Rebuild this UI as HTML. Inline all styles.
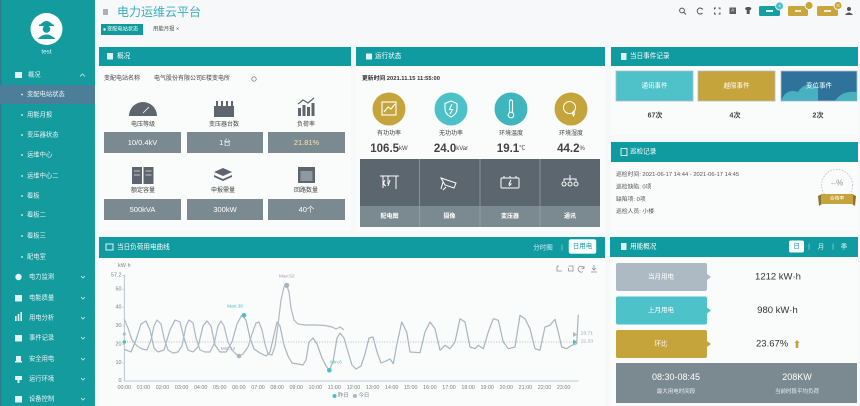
<!DOCTYPE html>
<html><head><meta charset="utf-8">
<style>
*{margin:0;padding:0;box-sizing:border-box}
html,body{width:860px;height:406px;overflow:hidden;background:#f6f8f9}
svg{display:block}
text{font-family:"Liberation Sans","Noto Sans CJK SC",sans-serif;dominant-baseline:central}
.sm{font-size:6.3px;fill:#eaf6f6}
.m{text-anchor:middle}
.e{text-anchor:end}
.ht{font-size:6.6px;fill:#fff}
.lb{font-size:6px;fill:#444}
.bx{font-size:7.5px;fill:#fff}
.ax{font-size:5.4px;fill:#7a8288}
</style></head>
<body>
<svg width="860" height="406" viewBox="0 0 860 406" xmlns="http://www.w3.org/2000/svg">
<rect width="860" height="406" fill="#f6f8f9"/>

<!-- ============ SIDEBAR ============ -->
<rect x="0" y="0" width="95" height="406" fill="#139b9e"/>
<rect x="0" y="0" width="1.5" height="406" fill="#2f7d8c"/>
<circle cx="46.5" cy="29" r="16" fill="#fff"/>
<g fill="#139b9e">
  <path d="M40 25 Q46.5 17 53 25 Z"/>
  <rect x="39" y="24.5" width="15" height="1.6"/>
  <circle cx="46.5" cy="29" r="3.8"/>
  <path d="M37.5 39 Q46.5 30 55.5 39 Z"/>
</g>
<text x="46.5" y="52" class="sm m">test</text>

<rect x="15" y="72" width="7" height="6" fill="#e6f2f2"/>
<text x="28" y="75" class="sm">概况</text>
<path d="M80 76.5 l2.5 -2.5 l2.5 2.5" stroke="#d6ecec" stroke-width="0.8" fill="none"/>

<rect x="0" y="85" width="95" height="19" fill="#4c7d99"/>
<g fill="#eaf6f6">
  <circle cx="22" cy="94.5" r="0.9"/><circle cx="22" cy="115" r="0.9"/><circle cx="22" cy="135" r="0.9"/>
  <circle cx="22" cy="155" r="0.9"/><circle cx="22" cy="176" r="0.9"/><circle cx="22" cy="196" r="0.9"/>
  <circle cx="22" cy="215" r="0.9"/><circle cx="22" cy="236" r="0.9"/><circle cx="22" cy="257" r="0.9"/>
</g>
<text x="27" y="94.5" class="sm">变配电站状态</text>
<text x="27" y="115" class="sm">用能月报</text>
<text x="27" y="135" class="sm">变压器状态</text>
<text x="27" y="155" class="sm">运维中心</text>
<text x="27" y="176" class="sm">运维中心二</text>
<text x="27" y="196" class="sm">看板</text>
<text x="27" y="215" class="sm">看板二</text>
<text x="27" y="236" class="sm">看板三</text>
<text x="27" y="257" class="sm">配电室</text>

<g fill="#e6f2f2">
  <circle cx="18.5" cy="277" r="3.2"/>
  <rect x="15" y="295" width="7" height="6.5"/>
  <rect x="15" y="316" width="1.6" height="5"/><rect x="17.7" y="314" width="1.6" height="7"/><rect x="20.4" y="312" width="1.6" height="9"/>
  <rect x="15" y="335" width="7" height="6.5"/>
  <rect x="16" y="356" width="5" height="5"/><rect x="15" y="361" width="7" height="1.5"/>
  <rect x="15" y="376" width="7" height="4"/><rect x="17.5" y="380" width="2" height="3"/>
  <rect x="15" y="396" width="7" height="6.5"/>
</g>
<text x="29" y="277" class="sm">电力监测</text>
<text x="29" y="298" class="sm">电能质量</text>
<text x="29" y="318" class="sm">用电分析</text>
<text x="29" y="338" class="sm">事件记录</text>
<text x="29" y="359" class="sm">安全用电</text>
<text x="29" y="379" class="sm">运行环境</text>
<text x="29" y="399" class="sm">设备控制</text>
<g stroke="#cfe9e9" stroke-width="0.8" fill="none">
  <path d="M81 276 l2 2 l2 -2"/><path d="M81 297 l2 2 l2 -2"/><path d="M81 317 l2 2 l2 -2"/>
  <path d="M81 337 l2 2 l2 -2"/><path d="M81 358 l2 2 l2 -2"/><path d="M81 378 l2 2 l2 -2"/><path d="M81 398 l2 2 l2 -2"/>
</g>

<!-- ============ HEADER ============ -->
<g stroke="#555" stroke-width="0.9">
  <line x1="103" y1="10" x2="108" y2="10"/><line x1="103" y1="12" x2="108" y2="12"/><line x1="103" y1="14" x2="108" y2="14"/>
</g>
<text x="117" y="12" style="font-size:12px;fill:#3aaebf">电力运维云平台</text>
<rect x="101" y="24" width="42" height="11" fill="#109a9c"/>
<circle cx="104.5" cy="29.5" r="1.2" fill="#fff"/>
<text x="107" y="29.7" style="font-size:5.2px;fill:#fff">变配电站状态</text>
<text x="153" y="29.7" style="font-size:5.4px;fill:#555">用能月报 ×</text>

<!-- header right icons -->
<g stroke="#555" stroke-width="1" fill="none">
  <circle cx="682" cy="10.5" r="2.4"/><line x1="683.8" y1="12.3" x2="686" y2="14.5"/>
  <path d="M702.8 9.5 A3 3 0 1 0 702.5 13"/>
  <path d="M714.5 9.5 v-1.5 h1.5 M718.5 8 h1.5 v1.5 M720 12.5 v1.5 h-1.5 M716 14 h-1.5 v-1.5"/>
</g>
<rect x="729.5" y="7.5" width="6.5" height="6.5" fill="#5a6066"/>
<text x="732.7" y="10.9" class="m" style="font-size:4.8px;fill:#fff">A</text>
<path d="M745 8 l2 -1 h2.5 l2 1 l-0.8 2 h-1 v4 h-3 v-4 h-1 z" fill="#555"/>
<rect x="759" y="6" width="21" height="10" rx="1.5" fill="#14a0a3"/>
<rect x="766" y="10" width="7" height="2" fill="#e6f5f5"/>
<circle cx="779.5" cy="6" r="4" fill="#4cc0c6" stroke="#fff" stroke-width="0.8"/>
<text x="779.5" y="6.2" class="m" style="font-size:3.8px;fill:#fff">4</text>
<rect x="788" y="6" width="20" height="10" rx="1.5" fill="#c9a63c"/>
<circle cx="809" cy="5.5" r="4" fill="#c9a63c" stroke="#fff" stroke-width="0.8"/>
<rect x="795" y="10" width="6" height="2" fill="#f5ecd0"/>
<rect x="817" y="6" width="21" height="10" rx="1.5" fill="#c9a63c"/>
<circle cx="838" cy="5.5" r="4" fill="#c9a63c" stroke="#fff" stroke-width="0.8"/>
<text x="838" y="5.7" class="m" style="font-size:3.8px;fill:#fff">11</text>
<rect x="824" y="10" width="7" height="2" fill="#f5ecd0"/>
<circle cx="849" cy="9" r="2" fill="#555"/><path d="M845 15 Q849 10 853 15 Z" fill="#555"/>

<!-- ============ PANEL 1 概况 ============ -->
<rect x="99" y="47" width="252" height="184" fill="#fafbfb"/>
<rect x="99" y="47" width="252" height="19" fill="#0f9ba0"/>
<rect x="107" y="53" width="6" height="6.5" fill="#dff2f2"/>
<text x="117" y="56.5" class="ht">概况</text>
<text x="104" y="79" class="lb">变配电站名称</text>
<text x="154" y="79" class="lb">电气股份有限公司E楼变电所</text>
<circle cx="254" cy="79" r="2.2" fill="none" stroke="#666" stroke-width="0.7"/>

<!-- icons row1 -->
<path d="M129 116 A14 14 0 0 1 157 116 Z" fill="#5d666e"/>
<path d="M143 113 L149 107" stroke="#fff" stroke-width="0.8"/>
<g fill="#5d666e">
  <rect x="214" y="106" width="20" height="11"/>
  <rect x="216" y="101" width="2" height="5"/><rect x="221" y="101" width="2" height="5"/>
  <rect x="226" y="101" width="2" height="5"/><rect x="231" y="101" width="2" height="5"/>
  <rect x="298" y="108" width="3" height="8"/><rect x="302.5" y="105" width="3" height="11"/>
  <rect x="307" y="107" width="3" height="9"/><rect x="311.5" y="103" width="3" height="13"/>
</g>
<path d="M298 104 L303 100 L308 103 L314 98" stroke="#5d666e" stroke-width="1.2" fill="none"/>
<text x="143" y="125" class="lb m">电压等级</text>
<text x="224" y="125" class="lb m">变压器台数</text>
<text x="306" y="125" class="lb m">负荷率</text>
<rect x="104" y="132" width="77" height="21" fill="#7b8990"/>
<rect x="187" y="132" width="76" height="21" fill="#7b8990"/>
<rect x="268" y="132" width="77" height="21" fill="#7b8990"/>
<text x="142.5" y="142.5" class="bx m">10/0.4kV</text>
<text x="225" y="142.5" class="bx m">1台</text>
<text x="306.5" y="142.5" class="bx m" style="fill:#f0e6b0">21.81%</text>

<!-- icons row2 -->
<g fill="#5d666e">
  <rect x="132" y="167" width="10" height="17"/><rect x="143.5" y="167" width="10" height="17"/>
  <path d="M223 168 L232 172 L223 176 L214 172 Z"/>
  <path d="M214 175 L223 179 L232 175 L232 177 L223 181 L214 177 Z"/>
  <rect x="298" y="167" width="17" height="16"/>
</g>
<g stroke="#fff" stroke-width="0.6">
  <line x1="134" y1="171" x2="140" y2="171"/><line x1="145.5" y1="171" x2="151.5" y2="171"/>
  <line x1="134" y1="175" x2="140" y2="175"/><line x1="145.5" y1="175" x2="151.5" y2="175"/>
</g>
<rect x="300.5" y="171" width="12" height="10" fill="#8f9aa0"/>
<text x="143" y="191" class="lb m">额定容量</text>
<text x="223" y="191" class="lb m">申报需量</text>
<text x="306" y="191" class="lb m">回路数量</text>
<rect x="104" y="199" width="77" height="21" fill="#7b8990"/>
<rect x="187" y="199" width="76" height="21" fill="#7b8990"/>
<rect x="268" y="199" width="77" height="21" fill="#7b8990"/>
<text x="142.5" y="209.5" class="bx m">500kVA</text>
<text x="225" y="209.5" class="bx m">300kW</text>
<text x="306.5" y="209.5" class="bx m">40个</text>

<!-- ============ PANEL 2 运行状态 ============ -->
<rect x="356" y="47" width="249" height="184" fill="#fafbfb"/>
<rect x="356" y="47" width="249" height="19" fill="#0f9ba0"/>
<rect x="366" y="53.5" width="6" height="6" fill="#dff2f2"/>
<text x="375" y="56.5" class="ht">运行状态</text>
<text x="362" y="79" style="font-size:5.8px;fill:#333;font-weight:bold">更新时间 2021.11.15 11:55:00</text>
<circle cx="389" cy="109" r="16.5" fill="#c4a43b"/>
<circle cx="451" cy="109" r="16.5" fill="#4cc2c8"/>
<circle cx="511" cy="109" r="16.5" fill="#3fb5bd"/>
<circle cx="571" cy="109" r="16.5" fill="#c4a43b"/>
<g stroke="#fff" stroke-width="1.1" fill="none">
  <rect x="382" y="102" width="14" height="13"/>
  <path d="M384 112 L388 107 L391 109 L395 104"/>
  <path d="M451 101 L457 103.5 V109 Q457 114 451 117 Q445 114 445 109 V103.5 Z"/>
  <path d="M452 104 L449.5 109.5 H452.5 L450 114"/>
  <path d="M509.5 113 V101 A1.6 1.6 0 0 1 512.5 101 V113"/>
  <circle cx="511" cy="115" r="2.8"/>
  <circle cx="569.5" cy="107.5" r="6"/>
  <path d="M573.5 111 Q575 114 573.5 116 Q572 114 573.5 111"/>
</g>
<text x="389" y="134" class="lb m">有功功率</text>
<text x="451" y="134" class="lb m">无功功率</text>
<text x="511" y="134" class="lb m">环境温度</text>
<text x="571" y="134" class="lb m">环境湿度</text>
<text x="389" y="149" class="m" style="font-size:11.5px;font-weight:bold;fill:#444">106.5<tspan style="font-size:6px;font-weight:normal">kW</tspan></text>
<text x="451" y="149" class="m" style="font-size:11.5px;font-weight:bold;fill:#444">24.0<tspan style="font-size:6px;font-weight:normal">kVar</tspan></text>
<text x="511" y="149" class="m" style="font-size:11.5px;font-weight:bold;fill:#444">19.1<tspan style="font-size:6px;font-weight:normal">℃</tspan></text>
<text x="571" y="149" class="m" style="font-size:11.5px;font-weight:bold;fill:#444">44.2<tspan style="font-size:6px;font-weight:normal">%</tspan></text>
<rect x="360" y="159" width="240" height="47" fill="#5c666e"/>
<rect x="360" y="206" width="240" height="21" fill="#7b8a90"/>
<g stroke="#9aa5ab" stroke-width="0.7">
  <line x1="419.5" y1="159" x2="419.5" y2="227"/><line x1="480" y1="159" x2="480" y2="227"/><line x1="540" y1="159" x2="540" y2="227"/>
</g>
<g stroke="#fff" stroke-width="1" fill="none">
  <path d="M380 176 H399 M383 176 V188 M388 176 V184 M396 176 V189 M385 180 Q382 184 386 186 M390 180 L388 186"/>
  <path d="M441 178 L456 183 L454 188 L445 185 Z M443 182 L441 189 M446 187 L443 190"/>
  <rect x="501" y="178" width="18" height="10" rx="1"/>
  <path d="M504 178 V176 M510 178 V176 M516 178 V176 M511 180 L509 184 H511 L509 186"/>
  <path d="M570 175 V179 M564 181 V179 H576 V181 M570 179 V181"/>
  <circle cx="564" cy="184" r="2"/><circle cx="570" cy="184" r="2"/><circle cx="576" cy="184" r="2"/>
</g>
<text x="389.5" y="217" class="m" style="font-size:6px;fill:#fff;font-weight:bold">配电图</text>
<text x="449.5" y="217" class="m" style="font-size:6px;fill:#fff;font-weight:bold">摄像</text>
<text x="510" y="217" class="m" style="font-size:6px;fill:#fff;font-weight:bold">变压器</text>
<text x="570" y="217" class="m" style="font-size:6px;fill:#fff;font-weight:bold">通讯</text>

<!-- ============ PANEL 3 当日事件记录 ============ -->
<rect x="611" y="47" width="247" height="88" fill="#fafbfb"/>
<rect x="611" y="47" width="247" height="19" fill="#0f9ba0"/>
<rect x="621" y="53" width="5.5" height="7" fill="#dff2f2"/>
<text x="630" y="56.5" class="ht">当日事件记录</text>
<rect x="616" y="71" width="77" height="30" fill="#4fc1c8" stroke="#aebdc8" stroke-width="0.8"/>
<rect x="698" y="71" width="77" height="30" fill="#c5a43c" stroke="#aebdc8" stroke-width="0.8"/>
<rect x="781" y="71" width="76" height="30" fill="#2f739c" stroke="#aebdc8" stroke-width="0.8"/>
<path d="M781 101 Q786 88 798 92 Q806 80 818 88 V101 Z" fill="#4fc1c8" opacity="0.8"/>
<path d="M835 101 Q842 90 857 92 V101 Z" fill="#4fc1c8" opacity="0.8"/>
<text x="654.5" y="86" class="m" style="font-size:6.5px;fill:#fff">通讯事件</text>
<text x="736.5" y="86" class="m" style="font-size:6.5px;fill:#fff">越限事件</text>
<text x="819" y="86" class="m" style="font-size:6.5px;fill:#fff">变位事件</text>
<text x="655" y="116" class="m" style="font-size:7px;fill:#444;font-weight:bold">67次</text>
<text x="735" y="116" class="m" style="font-size:7px;fill:#444;font-weight:bold">4次</text>
<text x="818" y="116" class="m" style="font-size:7px;fill:#444;font-weight:bold">2次</text>

<!-- ============ PANEL 4 巡检记录 ============ -->
<rect x="611" y="142" width="247" height="89" fill="#fafbfb"/>
<rect x="611" y="142" width="247" height="20" fill="#0f9ba0"/>
<rect x="621" y="148.5" width="6" height="7" fill="none" stroke="#dff2f2" stroke-width="1"/>
<text x="630" y="152" class="ht">巡检记录</text>
<text x="616" y="175" style="font-size:5.8px;fill:#555">巡检时间: 2021-06-17 14:44 - 2021-06-17 14:45</text>
<text x="616" y="187.5" style="font-size:5.8px;fill:#555">巡检缺陷: 0项</text>
<text x="616" y="200" style="font-size:5.8px;fill:#555">缺陷项: 0项</text>
<text x="616" y="212" style="font-size:5.8px;fill:#555">巡检人员: 小楼</text>
<circle cx="837" cy="185" r="15.5" fill="none" stroke="#aab4bc" stroke-width="0.7" stroke-dasharray="1.5 1.5"/>
<text x="837" y="183" class="m" style="font-size:8px;fill:#8a949a"><tspan fill="#c5a43c">--</tspan>%</text>
<path d="M818 196 L822 194 L822 204 L819 206 Z" fill="#8a7430"/>
<path d="M856 196 L852 194 L852 204 L855 206 Z" fill="#8a7430"/>
<rect x="821" y="194" width="32" height="10" fill="#c5a43c"/>
<text x="837" y="199.2" class="m" style="font-size:4.8px;fill:#fff">合格率</text>

<!-- ============ PANEL 5 用能概况 ============ -->
<rect x="610" y="237" width="248" height="169" fill="#fafbfb"/>
<rect x="610" y="237" width="248" height="20" fill="#0f9ba0"/>
<rect x="621" y="243" width="5.5" height="7" fill="#dff2f2"/>
<text x="630" y="247" class="ht">用能概况</text>
<rect x="789" y="240.5" width="15" height="12" rx="2" fill="#fff"/>
<text x="796.5" y="246.7" class="m" style="font-size:6.5px;fill:#0f9ba0">日</text>
<text x="809" y="247" class="m" style="font-size:6px;fill:#cfeaea">|</text>
<text x="821" y="247" class="m" style="font-size:6.5px;fill:#e3f3f3">月</text>
<text x="833" y="247" class="m" style="font-size:6px;fill:#cfeaea">|</text>
<text x="844" y="247" class="m" style="font-size:6.5px;fill:#e3f3f3">季</text>

<path d="M618 263 H705 Q707 263 707 265 V274 L711 277 L707 280 V289 Q707 291 705 291 H618 Q616 291 616 289 V265 Q616 263 618 263 Z" fill="#adb9c3"/>
<path d="M618 296.5 H705 Q707 296.5 707 298.5 V307.5 L711 310.5 L707 313.5 V322.5 Q707 324.5 705 324.5 H618 Q616 324.5 616 322.5 V298.5 Q616 296.5 618 296.5 Z" fill="#4dc2c8"/>
<path d="M618 330 H705 Q707 330 707 332 V341 L711 344 L707 347 V356 Q707 358 705 358 H618 Q616 358 616 356 V332 Q616 330 618 330 Z" fill="#c4a43b"/>
<text x="661" y="277" class="m" style="font-size:6.5px;fill:#fff">当月用电</text>
<text x="661" y="310.5" class="m" style="font-size:6.5px;fill:#fff">上月用电</text>
<text x="661" y="344" class="m" style="font-size:6.5px;fill:#fff">环比</text>
<text x="778" y="277" class="m" style="font-size:9.5px;fill:#333">1212 kW·h</text>
<text x="777.5" y="310.5" class="m" style="font-size:9.5px;fill:#333">980 kW·h</text>
<text x="756" y="344" style="font-size:9.5px;fill:#333">23.67%</text>
<path d="M797 340 L799.5 343 H798.3 V348 H795.7 V343 H794.5 Z" fill="#c4a43b"/>
<rect x="616" y="363" width="241" height="40" fill="#7b8a90"/>
<text x="676" y="377" class="m" style="font-size:9px;fill:#fff">08:30-08:45</text>
<text x="676" y="392" class="m" style="font-size:5.5px;fill:#e8eef0">最大用电时间段</text>
<text x="797" y="377" class="m" style="font-size:9px;fill:#fff">208KW</text>
<text x="797" y="392" class="m" style="font-size:5.5px;fill:#e8eef0">当前时段平均负荷</text>

<!-- ============ CHART PANEL ============ -->
<rect x="99" y="237" width="506" height="169" fill="#fafbfb"/>
<rect x="99" y="237" width="506" height="21" fill="#0f9ba0"/>
<rect x="106" y="244" width="7" height="6" fill="none" stroke="#dff2f2" stroke-width="1"/>
<text x="117" y="247.5" class="ht">当日负荷用电曲线</text>
<text x="543" y="248" class="m" style="font-size:6.5px;fill:#d8f0f0">分时图</text>
<text x="562" y="248" class="m" style="font-size:6px;fill:#cfeaea">|</text>
<rect x="569" y="239.5" width="27" height="14" rx="1.5" fill="#fff" stroke="#dfe" stroke-width="0.5"/>
<text x="582.5" y="246.7" class="m" style="font-size:6.5px;fill:#0f9ba0">日用电</text>

<!-- toolbox -->
<g stroke="#8c959b" stroke-width="0.8" fill="none">
  <path d="M557 266 V271 H562 M557 266 H559"/>
  <path d="M568.5 266 H573 V271 H568.5 V268"/>
  <path d="M584 268.5 A3 3 0 1 0 583 271.5 M584 266 V268.5 H581.5"/>
  <path d="M594 265 V270 M592 268 L594 270 L596 268 M591 272 H597"/>
</g>

<text x="118" y="266" style="font-size:5.4px;fill:#7a8288">kW·h</text>
<line x1="124.3" y1="275" x2="124.3" y2="381" stroke="#a9b7c3" stroke-width="0.8"/>
<line x1="124.3" y1="381" x2="578.5" y2="381" stroke="#a9b7c3" stroke-width="0.8"/>
<text x="121.5" y="275.3" class="ax e">57.2</text>
<text x="121.5" y="289.3" class="ax e">50</text>
<text x="121.5" y="307.5" class="ax e">40</text>
<text x="121.5" y="326" class="ax e">30</text>
<text x="121.5" y="344.5" class="ax e">20</text>
<text x="121.5" y="363" class="ax e">10</text>
<text x="121.5" y="381" class="ax e">0</text>
<g stroke="#a9b7c3" stroke-width="0.6">
  <line x1="122.5" y1="275.3" x2="124.3" y2="275.3"/><line x1="122.5" y1="289.3" x2="124.3" y2="289.3"/>
  <line x1="122.5" y1="307.5" x2="124.3" y2="307.5"/><line x1="122.5" y1="326" x2="124.3" y2="326"/>
  <line x1="122.5" y1="344.5" x2="124.3" y2="344.5"/><line x1="122.5" y1="363" x2="124.3" y2="363"/>
</g>
<g class="ax m" style="text-anchor:middle">
  <text x="124.3" y="388">00:00</text><text x="143.4" y="388">01:00</text><text x="162.5" y="388">02:00</text>
  <text x="181.6" y="388">03:00</text><text x="200.7" y="388">04:00</text><text x="219.8" y="388">05:00</text>
  <text x="238.9" y="388">06:00</text><text x="258" y="388">07:00</text><text x="277.1" y="388">08:00</text>
  <text x="296.2" y="388">09:00</text><text x="315.3" y="388">10:00</text><text x="334.4" y="388">11:00</text>
  <text x="353.5" y="388">12:00</text><text x="372.6" y="388">13:00</text><text x="391.7" y="388">14:00</text>
  <text x="410.8" y="388">15:00</text><text x="429.9" y="388">16:00</text><text x="449" y="388">17:00</text>
  <text x="468.1" y="388">18:00</text><text x="487.2" y="388">19:00</text><text x="506.3" y="388">20:00</text>
  <text x="525.4" y="388">21:00</text><text x="544.5" y="388">22:00</text><text x="563.6" y="388">23:00</text>
</g>

<!-- average line -->
<line x1="124.3" y1="342" x2="577" y2="342" stroke="#9aa8b3" stroke-width="0.7" stroke-dasharray="1 1.6"/>
<circle cx="124.3" cy="342" r="1.8" fill="#4bbfc6"/>
<circle cx="124.3" cy="334" r="1.6" fill="#b0bcc5"/>
<path d="M573 339.5 L577.5 342 L573 344.5 Z" fill="#4bbfc6"/>
<path d="M573 332 L577.5 334.5 L573 337 Z" fill="#b0bcc5"/>
<text x="581" y="334" style="font-size:4.8px;fill:#9aa5ad">23.71</text>
<text x="581" y="342" style="font-size:4.8px;fill:#9aa5ad">21.33</text>

<!-- series A (yesterday) -->
<polyline fill="none" stroke="#a6b5bf" stroke-width="1.2" stroke-linejoin="round" points="124.3,349.3 131,352 136,340 141,324 146,321 150,330 154,348 158,352 164,350 170,330 175,320 180,322 184,338 188,350 193,352 198,347 203,326 207,321 211,326 215,345 220,352 226,352 232,342 237,324 241.7,315.3 246,320 250,338 254,349 260,353 266,356 270,352 274,335 277,322 280,326 284,345 288,356 292,363 298,364 303,365 306,360 309,342 313,338 317,344 322,358 326,366 329.3,370.3 333,362 337,338 340,333 344,338 348,352 352,365 356,369 361,366 365,354 369,338 373,337 377,352 381,363 386,361 390,359 393.3,363.7 396.7,345.3 401.7,322 406.7,332 410,352 420,352.7 425,332 430,322 435,328.7 440,350.3 445,345.3 450,348.7 455,342 460,318.7 465,322 470,347 475,348.7 478.3,345.3 483.3,348.7 488.3,332 493.3,318.7 498.3,320.3 503.3,342 508.3,348.7 515,347 520,315.3 525,318.7 530,328.7 535,348.7 540,350.3 545,327 550,325.3 555,319.3 558.3,332 561.7,347 566.7,348.7 571.7,345.3 576.7,343.7 578.3,314.7"/>
<!-- series B (today) -->
<polyline fill="none" stroke="#aeb9c2" stroke-width="1.2" stroke-linejoin="round" points="124.3,319.3 128,328 132,340 137,346 142,349 147,350 151,340 154,326 157,320 161,324 164,338 168,350 173,353 178,352 182,346 186,326 189,320 193,323 196,338 200,350 205,352 210,352 214,344 218,326 221,321 224,326 228,342 232,350 236,354 239,356 243,354 248,347 252,334 256,323 259,322 262,330 265,344 268,354 272,355 275,346 278,325 281,300 284,287 286.7,285.3 289,292 291,308 294,320 298,324 305,325 315,325 325,325.5 332,327 336,329 340,327 344,330"/>

<!-- mark points -->
<circle cx="244" cy="315.3" r="2.3" fill="#4bbfc6"/>
<text x="235" y="307" class="m" style="font-size:4.8px;fill:#4bbfc6">Max:36</text>
<circle cx="239" cy="356" r="2.3" fill="#aab6bf"/>
<text x="228" y="349.5" class="m" style="font-size:4.8px;fill:#9aa5ad">Min:14</text>
<circle cx="286.7" cy="285.3" r="2.6" fill="#aab6bf"/>
<text x="286.7" y="277" class="m" style="font-size:4.8px;fill:#9aa5ad">Max:52</text>
<circle cx="329.3" cy="370.3" r="2.3" fill="#4bbfc6"/>
<text x="336" y="363" class="m" style="font-size:4.8px;fill:#4bbfc6">Min:6</text>

<!-- legend -->
<circle cx="334.5" cy="396" r="2" fill="#4bbfc6"/>
<text x="338" y="396" style="font-size:5.4px;fill:#7a8288">昨日</text>
<circle cx="355" cy="396" r="2" fill="#aab6bf"/>
<text x="358.5" y="396" style="font-size:5.4px;fill:#7a8288">今日</text>
</svg>
</body></html>
